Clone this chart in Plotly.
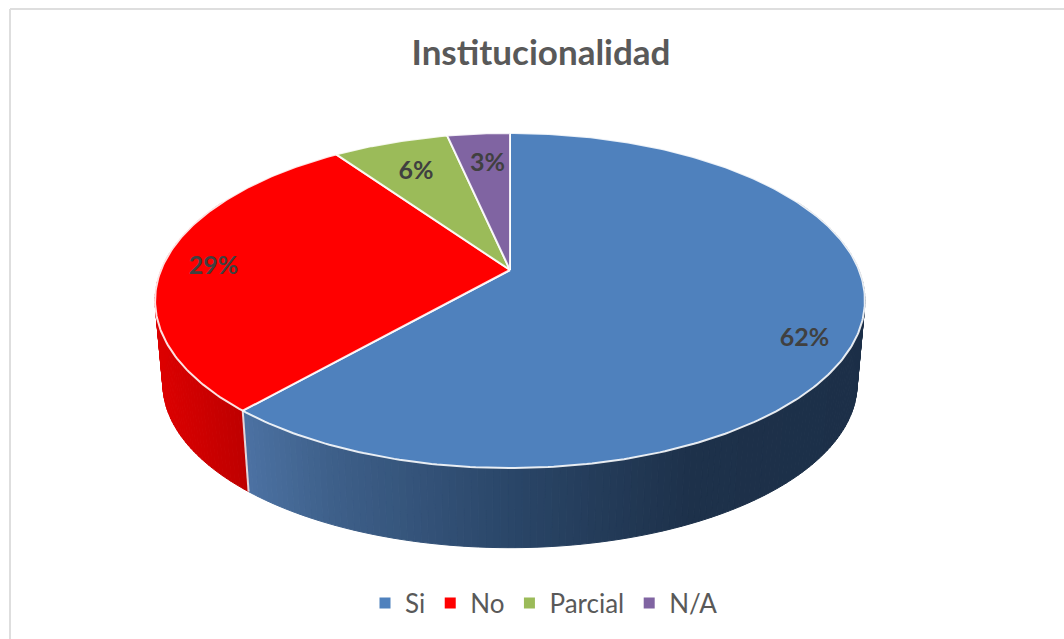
import math
import plotly.graph_objects as go

# ---- data ----
categories = ["Si", "No", "Parcial", "N/A"]
shares = [61.5, 28.8, 6.3, 3.4]
top_colors = ["#4F81BD", "#FF0000", "#9BBB59", "#8064A2"]
title_text = "Institucionalidad"

# ---- perspective model of the tilted disc ----
CX, CY = 510.0, 270.0
RX, RY, K = 349.0, 162.0, 0.182
DEPTH_CY, DEPTH_SCALE = 354.0, 0.978
TOTAL = sum(shares)
LABEL_NUDGE = [(1, 18), (-3, 5), (10, 13), (5, 13)]


def project(theta, r=1.0, bottom=False):
    u, v = math.sin(theta) * r, math.cos(theta) * r
    w = 1 + K * v
    x, y = RX * u / w, -RY * v / w
    if bottom:
        return CX + x * DEPTH_SCALE, DEPTH_CY + y * DEPTH_SCALE
    return CX + x, CY + y


def lerp_stops(stops, x):
    if x <= stops[0][0]:
        return stops[0][1]
    for (x0, c0), (x1, c1) in zip(stops, stops[1:]):
        if x <= x1:
            t = (x - x0) / (x1 - x0)
            return tuple(a + (b - a) * t for a, b in zip(c0, c1))
    return stops[-1][1]


side_stops = {
    0: [(245, (76, 114, 163)), (330, (62, 96, 138)), (510, (42, 70, 104)), (690, (29, 49, 74)), (870, (28, 47, 72))],
    1: [(155, (222, 0, 0)), (250, (188, 0, 0))],
    2: [(0, (120, 140, 66)), (1064, (120, 140, 66))],
    3: [(0, (96, 75, 122)), (1064, (96, 75, 122))],
}

fig = go.Figure()

cum = 0
bounds = []
for c in shares:
    bounds.append((cum / TOTAL * 2 * math.pi, (cum + c) / TOTAL * 2 * math.pi))
    cum += c

# side wall as narrow strips, coloured by their horizontal position
for i, (a0, a1) in enumerate(bounds):
    n = max(2, int((a1 - a0) / math.radians(1.0)))
    for s in range(n):
        t0 = a0 + (a1 - a0) * s / n
        t1 = a0 + (a1 - a0) * (s + 1) / n
        if math.cos((t0 + t1) / 2) > 0.45:
            continue
        p = [project(t0), project(t1), project(t1, bottom=True), project(t0, bottom=True)]
        xs = [q[0] for q in p] + [p[0][0]]
        ys = [q[1] for q in p] + [p[0][1]]
        r, g, b = lerp_stops(side_stops[i], sum(xs[:4]) / 4)
        col = f"rgb({r:.0f},{g:.0f},{b:.0f})"
        fig.add_trace(go.Scatter(x=xs, y=ys, mode="lines", fill="toself", fillcolor=col,
                                 line=dict(color=col, width=1), showlegend=False, hoverinfo="skip"))

# seam between red and blue walls
sx0, sy0 = project(bounds[0][1])
sx1, sy1 = project(bounds[0][1], bottom=True)
fig.add_trace(go.Scatter(x=[sx0, sx1], y=[sy0, sy1], mode="lines",
                         line=dict(color="rgba(235,235,240,0.9)", width=2),
                         showlegend=False, hoverinfo="skip"))

# top face slices
for i, (a0, a1) in enumerate(bounds):
    n = max(8, int((a1 - a0) / math.radians(0.75)))
    pts = [project(a0 + (a1 - a0) * s / n) for s in range(n + 1)]
    xs = [CX] + [q[0] for q in pts] + [CX]
    ys = [CY] + [q[1] for q in pts] + [CY]
    fig.add_trace(go.Scatter(x=xs, y=ys, mode="lines", fill="toself", fillcolor=top_colors[i],
                             line=dict(color="rgba(255,255,255,0.88)", width=2),
                             showlegend=False, hovertext=categories[i], hoverinfo="text"))

# data labels
lx, ly, lt = [], [], []
for c, (a0, a1), (dx, dy) in zip(shares, bounds, LABEL_NUDGE):
    x, y = project((a0 + a1) / 2, 0.85)
    lx.append(x + dx)
    ly.append(y + dy)
    lt.append(f"{c / TOTAL * 100:.0f}%")
fig.add_trace(go.Scatter(x=lx, y=ly, mode="text", text=lt, textposition="middle center",
                         textfont=dict(family="Lato", size=25, color="#404040", weight="bold"),
                         showlegend=False, hoverinfo="skip"))

# legend entries
for name, col in zip(categories, top_colors):
    fig.add_trace(go.Scatter(x=[None], y=[None], mode="markers", name=name,
                             marker=dict(symbol="square", size=11, color=col)))

fig.update_layout(
    width=1064, height=639,
    margin=dict(l=0, r=0, t=0, b=0),
    paper_bgcolor="white", plot_bgcolor="white",
    xaxis=dict(range=[0, 1064], visible=False, fixedrange=True),
    yaxis=dict(range=[639, 0], visible=False, fixedrange=True),
    title=dict(text=title_text, x=541 / 1064, xanchor="center", y=1 - 53 / 639, yanchor="middle",
               font=dict(family="Lato", size=35, color="#595959", weight="bold")),
    legend=dict(orientation="h", x=544 / 1064, xanchor="center", y=1 - 603 / 639, yanchor="middle",
                font=dict(family="Lato", size=26, color="#595959"), itemclick=False, itemdoubleclick=False,
                bgcolor="rgba(0,0,0,0)"),
    shapes=[
        dict(type="line", xref="x", yref="y", x0=10, x1=1064, y0=9, y1=9, line=dict(color="#DEDEDE", width=2)),
        dict(type="line", xref="x", yref="y", x0=10, x1=10, y0=9, y1=639, line=dict(color="#DEDEDE", width=2)),
    ],
)

fig.write_html(
    "out.html",
    config={"displayModeBar": False},
    post_script=(
        "document.body.style.margin='0';"
        "document.body.style.overflow='hidden';"
        "document.body.style.fontVariantLigatures='none';"
    ),
)
